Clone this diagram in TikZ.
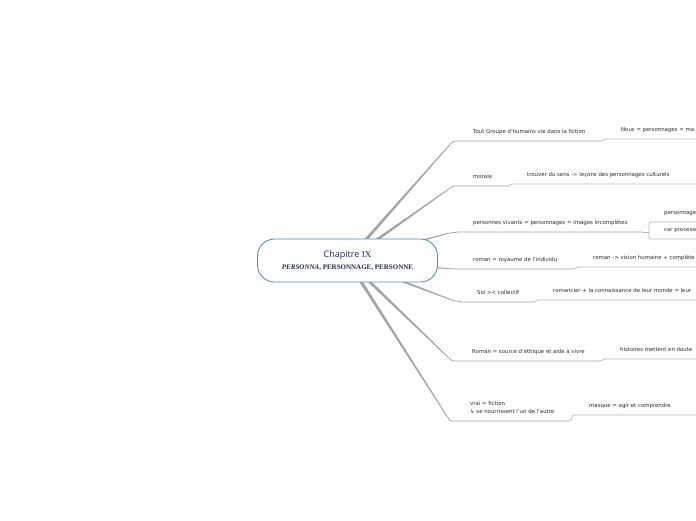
\documentclass[tikz,border=0pt]{standalone}
\usepackage{fontspec}
\setmainfont{DejaVu Sans}
\newfontfamily\titlefont{Open Sans}
\newfontfamily\capsfont{Liberation Serif}
\usetikzlibrary{calc,backgrounds}
\definecolor{chapblue}{HTML}{4A90D9}
\definecolor{chapnavy}{HTML}{1F2A4F}
\definecolor{branchgray}{HTML}{A4A4A4}
\definecolor{linegray}{HTML}{B4B4B4}
\definecolor{textgray}{HTML}{2B2B2B}
\newcommand{\branchto}[1]{%
  \coordinate (k) at ($(#1.south west)+(-5,0)$);
  \coordinate (a) at ($(k)!5pt!(chap.center)$);
  \fill[branchgray] ($(chap.center)!1.7pt!90:(a)$) -- ($(a)!0.45pt!-90:(chap.center)$)
    -- ($(a)!0.45pt!90:(chap.center)$) -- ($(chap.center)!1.7pt!-90:(a)$) -- cycle;
  \draw[branchline] (a) .. controls (k) .. (#1.south west) -- (#1.south east);}
\newcommand{\stepto}[2]{%
  \draw[topicline] (#1.south east) to[out=0,in=180] (#2.south west) -- (#2.south west -| edge);}

\begin{document}
\begin{tikzpicture}[x=1pt,y=-1pt,
  topic/.style={font=\fontsize{5.4}{8}\selectfont,text=textgray,inner xsep=15pt,inner ysep=5.6pt,
    text height=4pt,text depth=1.3pt,anchor=south west,align=left},
  branchline/.style={draw=branchgray,line width=0.8pt},
  topicline/.style={draw=linegray,line width=0.7pt}]
\useasboundingbox (0,0) rectangle (696,520);
\clip (0,0) rectangle (696,520);
\coordinate (edge) at (700,0);

\node[draw=chapblue,line width=0.9pt,fill=white,rounded corners=17pt,minimum width=180pt,
  minimum height=43pt,inner sep=0pt,align=center,text=chapnavy,font=\fontsize{7}{12.4}\selectfont] (chap) at (347.5,260.5)
{{\titlefont\fontsize{9}{12.4}\selectfont Chapitre \capsfont IX}\\
 {\capsfont\bfseries\textit{PERSONNA}, PERSONNAGE, PERSONNE}};

\node[topic] (t1) at (458,141) {Tout Groupe d'humains vie dans la fiction};
\node[topic] (d1) at (606,139) {Nous = personnages = ma};
\node[topic] (t2) at (458,186) {morale};
\node[topic] (d2) at (512,184) {trouver du sens -> leçons des personnages culturels};
\node[topic] (t3) at (458,232) {personnes vivants = personnages = images incomplètes};
\node[topic] (d3a) at (649,222) {personnage};
\node[topic] (d3b) at (649,239) {car processe};
\node[topic] (t4) at (458,269) {roman = royaume de l'individu};
\node[topic] (d4) at (578,267) {roman -> vision humaine + complète};
\node[topic] (t5) at (462,302) {Soi >< collectif};
\node[topic] (d5) at (538,300) {romancier + la connaissance de leur monde = leur};
\node[topic] (t6) at (457,361) {Roman = source d'éthique et aide à vivre};
\node[topic] (d6) at (605,359) {histoires mettent en doute};
\node[topic,text height=] (t7) at (455,421) {vrai = fiction\\↳ se nourrissent l'un de l'autre};
\node[topic] (d7) at (574,415) {masque = agir et comprendre};

\begin{scope}[on background layer]
\branchto{t1} \branchto{t2} \branchto{t3} \branchto{t4}
\branchto{t5} \branchto{t6} \branchto{t7}
\end{scope}

\stepto{t1}{d1} \stepto{t2}{d2} \stepto{t4}{d4}
\stepto{t5}{d5} \stepto{t6}{d6} \stepto{t7}{d7}
\draw[topicline] (t3.south east) -- (d3a.south west |- t3.south east);
\draw[topicline,rounded corners=2pt] (d3a.south west -| edge) -- (d3a.south west)
  -- (d3b.south west) -- (d3b.south west -| edge);
\end{tikzpicture}
\end{document}
